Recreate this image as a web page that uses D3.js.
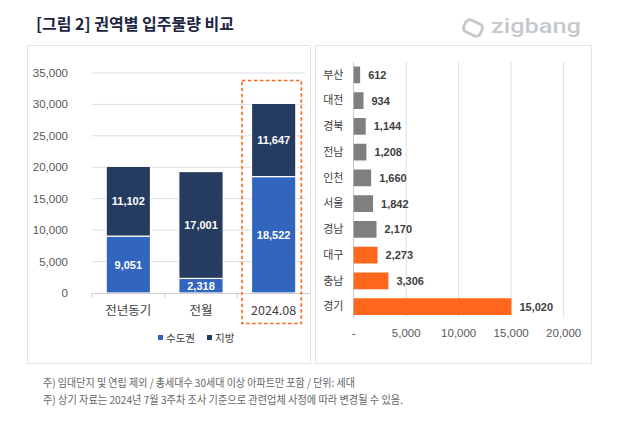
<!DOCTYPE html>
<html><head><meta charset="utf-8">
<script src="https://cdn.jsdelivr.net/npm/d3@7"></script>
<style>
body{margin:0;background:#fff;}
svg{display:block;font-family:"Liberation Sans","Noto Sans CJK KR",sans-serif;}
.kr{font-family:"Noto Sans CJK KR","Liberation Sans",sans-serif;}
</style></head><body>
<svg id="c" width="643" height="432"></svg>
<script>
// ---- data ----
const periods = ["전년동기", "전월", "2024.08"];
const capital = [9051, 2318, 18522];   // 수도권
const regional = [11102, 17001, 11647]; // 지방
const seriesNames = ["수도권", "지방"];
const leftTicks = [0, 5000, 10000, 15000, 20000, 25000, 30000, 35000];

const regions = ["부산", "대전", "경북", "전남", "인천", "서울", "경남", "대구", "충남", "경기"];
const regionValues = [612, 934, 1144, 1208, 1660, 1842, 2170, 2273, 3306, 15020];
const highlighted = ["대구", "충남", "경기"];
const rightTicks = [0, 5000, 10000, 15000, 20000];

const title = "[그림 2] 권역별 입주물량 비교";
const notes = ["주) 임대단지 및 연립 제외 / 총세대수 30세대 이상 아파트만 포함 / 단위: 세대",
               "주) 상기 자료는 2024년 7월 3주차 조사 기준으로 관련업체 사정에 따라 변경될 수 있음."];

const BLUE = "#3266BE", NAVY = "#253B5F", GRAY = "#7F7F7F", ORANGE = "#FF671D";
const fmt = d3.format(",");
const svg = d3.select("#c");

// title
svg.append("text").attr("class","kr").attr("x",36).attr("y",30)
  .attr("font-size",16).attr("font-weight",700).attr("fill","#1c2541").text(title);

// logo
const logo = svg.append("g").attr("transform","translate(473,28)");
logo.append("rect").attr("x",-9).attr("y",-6.5).attr("width",18).attr("height",13).attr("rx",4.5)
  .attr("transform","rotate(25)").attr("fill","none").attr("stroke","#c5c9ce").attr("stroke-width",3);
svg.append("text").attr("x",491).attr("y",33).attr("font-family","Roboto, 'Open Sans', sans-serif")
  .attr("font-size",21).attr("font-weight",500).attr("fill","#c5c9ce")
  .attr("textLength",90).attr("lengthAdjust","spacingAndGlyphs").text("zigbang");

// panels
svg.append("rect").attr("x",27.5).attr("y",45.5).attr("width",283).attr("height",318)
  .attr("fill","#fff").attr("stroke","#e3e3e3");
svg.append("rect").attr("x",315.5).attr("y",45.5).attr("width",276).attr("height",318)
  .attr("fill","#fff").attr("stroke","#e3e3e3");

// ---- left stacked chart ----
const x = d3.scaleBand().domain(periods).range([92, 310]).paddingInner(0.39).paddingOuter(0.195);
const y = d3.scaleLinear().domain([0, 35000]).range([293, 73]);

const L = svg.append("g");
L.selectAll(".grid").data(leftTicks.slice(1)).join("line")
  .attr("x1",92).attr("x2",305).attr("y1",d=>y(d)).attr("y2",d=>y(d))
  .attr("stroke","#dedede").attr("stroke-width",1);
L.selectAll(".yl").data(leftTicks).join("text")
  .attr("x",68).attr("y",d=>y(d)).attr("dy","0.35em").attr("text-anchor","end")
  .attr("font-size",11.5).attr("fill","#595959").text(d=>fmt(d));

const stackData = periods.map((p,i)=>({p, a:capital[i], b:regional[i]}));
const stack = d3.stack().keys(["a","b"])(stackData);
const colors = [BLUE, NAVY];
stack.forEach((s,si)=>{
  L.selectAll(".s"+si).data(s).join("rect")
    .attr("x",d=>x(d.data.p)).attr("width",x.bandwidth())
    .attr("y",d=>y(d[1])).attr("height",d=>y(d[0])-y(d[1]))
    .attr("fill",colors[si]).attr("stroke","#fff").attr("stroke-width",1.2);
  L.selectAll(".t"+si).data(s).join("text")
    .attr("x",d=>x(d.data.p)+x.bandwidth()/2).attr("y",d=>(y(d[0])+y(d[1]))/2).attr("dy","0.36em")
    .attr("text-anchor","middle").attr("font-size",11).attr("font-weight",700).attr("fill","#fff")
    .text(d=>fmt(d[1]-d[0]));
});
// x axis
L.append("line").attr("x1",92).attr("x2",310).attr("y1",293.5).attr("y2",293.5).attr("stroke","#d0d0d0");
const bounds = [92, ...periods.slice(1).map(p=>x(p)-x.step()*x.paddingInner()/2)];
L.selectAll(".tk").data(bounds).join("line")
  .attr("x1",d=>d).attr("x2",d=>d).attr("y1",293).attr("y2",298).attr("stroke","#d0d0d0");
L.selectAll(".xl").data(periods).join("text").attr("class","kr")
  .attr("x",d=>x(d)+x.bandwidth()/2).attr("y",315).attr("text-anchor","middle")
  .attr("font-size",12.5).attr("fill","#404040").text(d=>d);
// highlight box
const hx = x("2024.08");
L.append("rect").attr("x",hx-9.5).attr("y",80.5).attr("width",x.bandwidth()+15).attr("height",243)
  .attr("fill","none").attr("stroke",ORANGE).attr("stroke-width",1.6).attr("stroke-dasharray","3.5,2.5");
// legend
const lg = L.append("g");
seriesNames.forEach((n,i)=>{
  const lx = [158, 207][i];
  lg.append("rect").attr("x",lx).attr("y",335).attr("width",5).attr("height",5).attr("fill",colors[i]);
  lg.append("text").attr("class","kr").attr("x",lx+8).attr("y",341.5).attr("font-size",10.5)
    .attr("fill","#404040").text(n);
});

// ---- right horizontal bar chart ----
const yb = d3.scaleBand().domain(regions).range([62, 319.5]).paddingInner(0.35).paddingOuter(0.175);
const xb = d3.scaleLinear().domain([0, 20000]).range([353.7, 563.7]);
const R = svg.append("g");
R.selectAll(".vg").data(rightTicks.slice(1)).join("line")
  .attr("x1",d=>xb(d)).attr("x2",d=>xb(d)).attr("y1",62).attr("y2",317)
  .attr("stroke","#dedede");
R.append("line").attr("x1",353.5).attr("x2",353.5).attr("y1",62).attr("y2",318).attr("stroke","#c8c8c8");
R.selectAll(".bar").data(regions).join("rect")
  .attr("x",xb(0)).attr("y",d=>yb(d)).attr("height",yb.bandwidth())
  .attr("width",(d,i)=>xb(regionValues[i])-xb(0))
  .attr("fill",d=>highlighted.includes(d)?ORANGE:GRAY);
R.selectAll(".rl").data(regions).join("text").attr("class","kr")
  .attr("x",343.5).attr("y",d=>yb(d)+yb.bandwidth()/2).attr("dy","0.35em").attr("text-anchor","end")
  .attr("font-size",11).attr("fill","#404040").text(d=>d);
R.selectAll(".vl").data(regions).join("text")
  .attr("x",(d,i)=>xb(regionValues[i])+8).attr("y",d=>yb(d)+yb.bandwidth()/2).attr("dy","0.36em")
  .attr("font-size",11).attr("font-weight",700).attr("fill","#404040").text((d,i)=>fmt(regionValues[i]));
R.selectAll(".xt").data(rightTicks).join("text")
  .attr("x",d=>xb(d)).attr("y",337).attr("text-anchor","middle")
  .attr("font-size",11.5).attr("fill","#595959").text(d=>d===0?"-":fmt(d));

// notes
const noteW = [312, 360];
notes.forEach((n,i)=>{
  const t = svg.append("text").attr("class","kr").attr("x",43).attr("y",[386.5,404][i])
    .attr("font-size",11).attr("fill","#666").text(n);
  t.attr("textLength",noteW[i]).attr("lengthAdjust","spacingAndGlyphs");
});
</script>
</body></html>
